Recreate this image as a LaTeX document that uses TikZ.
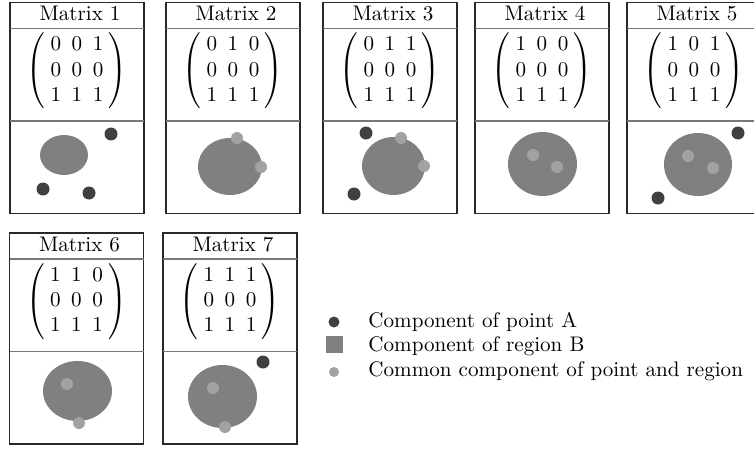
\documentclass[tikz,border=0pt]{standalone}
\usepackage{amsmath}
\definecolor{darkpt}{RGB}{64,64,64}
\definecolor{regioncol}{RGB}{128,128,128}
\definecolor{lightpt}{RGB}{162,162,162}
\definecolor{framecol}{RGB}{40,40,40}
\definecolor{divcol}{RGB}{120,120,120}
\tikzset{
  frame/.style={draw=framecol,line width=0.7pt},
  divider/.style={draw=divcol,line width=0.7pt},
  title/.style={inner sep=0pt},
  mat/.style={inner sep=0pt},
  region/.style={fill=regioncol},
  ptA/.style={fill=darkpt},
  ptC/.style={fill=lightpt},
  legtext/.style={anchor=west,inner sep=0pt},
}
\newcommand{\matcard}[5]{%
  \draw[frame] (#2,#3) rectangle ++(134,211);
  \draw[divider] (#2,#3+26) -- ++(134,0);
  \draw[divider] (#2,#3+118.5) -- ++(134,0);
  \node[title] (#1t) at (#2+70,#3+11.2) {Matrix #4};
  \node[mat] (#1m) at (#2+67,#3+68.5) {$\setlength\arraycolsep{2.5pt}\left(\begin{array}{ccc}#5\end{array}\right)$};
}
\begin{document}
\begin{tikzpicture}[x=0.474pt,y=-0.474pt]
\clip (0,0) rectangle (754,449);
\fill[white] (0,0) rectangle (754,449);
% cards
\matcard{c1}{10}{2.5}{1}{0&0&1\\0&0&0\\1&1&1}
\matcard{c2}{166}{2.5}{2}{0&1&0\\0&0&0\\1&1&1}
\matcard{c3}{323}{2.5}{3}{0&1&1\\0&0&0\\1&1&1}
\matcard{c4}{475}{2.5}{4}{1&0&0\\0&0&0\\1&1&1}
\matcard{c5}{627}{2.5}{5}{1&0&1\\0&0&0\\1&1&1}
\matcard{c6}{9.5}{233}{6}{1&1&0\\0&0&0\\1&1&1}
\matcard{c7}{163}{233}{7}{1&1&1\\0&0&0\\1&1&1}
% card 1
\fill[region] (64,155) ellipse [x radius=24,y radius=20];
\fill[ptA] (111,134) circle (6.5);
\fill[ptA] (43,189) circle (6.5);
\fill[ptA] (89,193) circle (6.5);
% card 2
\fill[region] (230,166.5) ellipse [x radius=32,y radius=28.5];
\fill[ptC] (237,138) circle (6);
\fill[ptC] (261,167) circle (6);
% card 3
\fill[region] (393.5,166) ellipse [x radius=31.5,y radius=29];
\fill[ptA] (366,133) circle (6.5);
\fill[ptA] (354,194) circle (6.5);
\fill[ptC] (401,138) circle (6);
\fill[ptC] (424,166) circle (6);
% card 4
\fill[region] (542.5,164) ellipse [x radius=34.5,y radius=32];
\fill[ptC] (533,155) circle (6);
\fill[ptC] (557,167) circle (6);
% card 5
\fill[region] (698,164.5) ellipse [x radius=34,y radius=31.5];
\fill[ptC] (688,156) circle (6);
\fill[ptC] (713,168) circle (6);
\fill[ptA] (738,133) circle (6.5);
\fill[ptA] (658,198) circle (6.5);
% card 6
\fill[region] (77.5,391) ellipse [x radius=34.5,y radius=30];
\fill[ptC] (67,384) circle (6);
\fill[ptC] (79,423) circle (6);
% card 7
\fill[region] (222.5,396.5) ellipse [x radius=34.5,y radius=31.5];
\fill[ptC] (213,388) circle (6);
\fill[ptC] (225,427) circle (6);
\fill[ptA] (263,362) circle (6.5);
% legend
\fill[ptA] (334,322) circle (5.5);
\fill[region] (325.5,336) rectangle (342.5,353);
\fill[ptC] (334,372) circle (5);
\node[legtext] (l1) at (368,322) {Component of point A};
\node[legtext] (l2) at (368,346) {Component of region B};
\node[legtext] (l3) at (368,371) {Common component of point and region};
\end{tikzpicture}
\end{document}
